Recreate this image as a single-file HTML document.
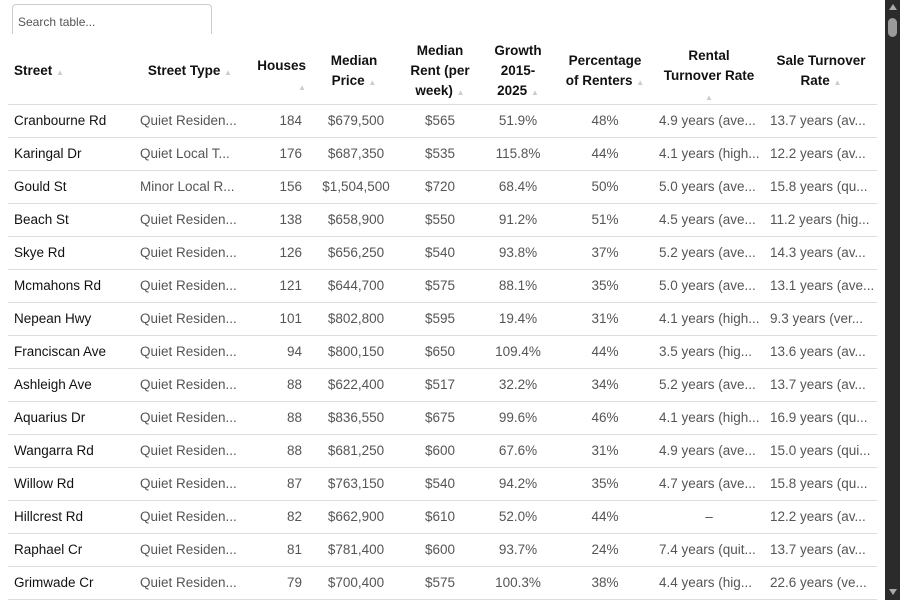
<!DOCTYPE html>
<html><head><meta charset="utf-8"><style>
*{margin:0;padding:0;box-sizing:border-box}
body{width:900px;height:600px;overflow:hidden;background:#fff;font-family:"Liberation Sans",sans-serif;position:relative}
.search{position:absolute;left:12px;top:4px;width:200px;height:36px;border:1px solid #ccc;border-radius:4px;font-size:12px;color:#555;padding:10px 0 0 5px}
.hdr{position:absolute;left:8px;top:34px;width:869px;height:72px;background:#fff}
.h{position:absolute;font-weight:bold;font-size:13.5px;color:#111;line-height:20px;text-align:center}
.a{color:#ccc;font-size:8px;font-weight:normal}
.row{position:absolute;left:8px;width:869px;height:33px;border-bottom:1px solid #ddd;font-size:13.5px;color:#555}
.row div{position:absolute;top:8px;white-space:nowrap}
.sb{position:absolute;left:885px;top:0;width:15px;height:600px;background:#2b2b2b}
</style></head><body>
<div class="search">Search table...</div>
<div class="hdr"></div>
<div class="h" style="left:14px;top:61px;text-align:left">Street <span class="a">▲</span></div>
<div class="h" style="left:138px;top:61px;width:104px">Street Type <span class="a">▲</span></div>
<div class="h" style="left:250px;top:56px;width:56px;text-align:right">Houses<br><span class="a">▲</span></div>
<div class="h" style="left:310px;top:51px;width:88px">Median<br>Price <span class="a">▲</span></div>
<div class="h" style="left:398px;top:41px;width:84px">Median<br>Rent (per<br>week) <span class="a">▲</span></div>
<div class="h" style="left:482px;top:41px;width:72px">Growth<br>2015-<br>2025 <span class="a">▲</span></div>
<div class="h" style="left:554px;top:51px;width:102px">Percentage<br>of Renters <span class="a">▲</span></div>
<div class="h" style="left:654px;top:46px;width:110px">Rental<br>Turnover Rate<br><span class="a">▲</span></div>
<div class="h" style="left:764px;top:51px;width:114px">Sale Turnover<br>Rate <span class="a">▲</span></div>
<div class="row" style="top:104px;height:1px;border-bottom:1px solid #ddd"></div>
<div id="rows"></div>
<div class="sb"><div style="position:absolute;left:4px;top:4px;width:0;height:0;border-left:4px solid transparent;border-right:4px solid transparent;border-bottom:6px solid #aaa"></div><div style="position:absolute;left:3px;top:18px;width:9px;height:19px;border-radius:5px;background:#999"></div><div style="position:absolute;left:4px;top:589px;width:0;height:0;border-left:4px solid transparent;border-right:4px solid transparent;border-top:6px solid #aaa"></div></div>
<script>
var d=[["Cranbourne Rd","Quiet Residen...","184","$679,500","$565","51.9%","48%","4.9 years (ave...","13.7 years (av..."],
["Karingal Dr","Quiet Local T...","176","$687,350","$535","115.8%","44%","4.1 years (high...","12.2 years (av..."],
["Gould St","Minor Local R...","156","$1,504,500","$720","68.4%","50%","5.0 years (ave...","15.8 years (qu..."],
["Beach St","Quiet Residen...","138","$658,900","$550","91.2%","51%","4.5 years (ave...","11.2 years (hig..."],
["Skye Rd","Quiet Residen...","126","$656,250","$540","93.8%","37%","5.2 years (ave...","14.3 years (av..."],
["Mcmahons Rd","Quiet Residen...","121","$644,700","$575","88.1%","35%","5.0 years (ave...","13.1 years (ave..."],
["Nepean Hwy","Quiet Residen...","101","$802,800","$595","19.4%","31%","4.1 years (high...","9.3 years (ver..."],
["Franciscan Ave","Quiet Residen...","94","$800,150","$650","109.4%","44%","3.5 years (hig...","13.6 years (av..."],
["Ashleigh Ave","Quiet Residen...","88","$622,400","$517","32.2%","34%","5.2 years (ave...","13.7 years (av..."],
["Aquarius Dr","Quiet Residen...","88","$836,550","$675","99.6%","46%","4.1 years (high...","16.9 years (qu..."],
["Wangarra Rd","Quiet Residen...","88","$681,250","$600","67.6%","31%","4.9 years (ave...","15.0 years (qui..."],
["Willow Rd","Quiet Residen...","87","$763,150","$540","94.2%","35%","4.7 years (ave...","15.8 years (qu..."],
["Hillcrest Rd","Quiet Residen...","82","$662,900","$610","52.0%","44%","–","12.2 years (av..."],
["Raphael Cr","Quiet Residen...","81","$781,400","$600","93.7%","24%","7.4 years (quit...","13.7 years (av..."],
["Grimwade Cr","Quiet Residen...","79","$700,400","$575","100.3%","38%","4.4 years (hig...","22.6 years (ve..."]];
var h="";
d.forEach(function(r,i){var t=105+33*i;
h+='<div class="row" style="top:'+t+'px">'+
'<div style="left:6px;color:#111">'+r[0]+'</div>'+
'<div style="left:132px">'+r[1]+'</div>'+
'<div style="right:575px">'+r[2]+'</div>'+
'<div style="left:304px;width:88px;text-align:center">'+r[3]+'</div>'+
'<div style="left:392px;width:80px;text-align:center">'+r[4]+'</div>'+
'<div style="left:476px;width:68px;text-align:center">'+r[5]+'</div>'+
'<div style="left:548px;width:98px;text-align:center">'+r[6]+'</div>'+
(r[7]=="–"?'<div style="left:648px;width:106px;text-align:center">–</div>':'<div style="left:651px">'+r[7]+'</div>')+
'<div style="left:762px">'+r[8]+'</div></div>';});
document.getElementById("rows").innerHTML=h;
</script>
</body></html>
